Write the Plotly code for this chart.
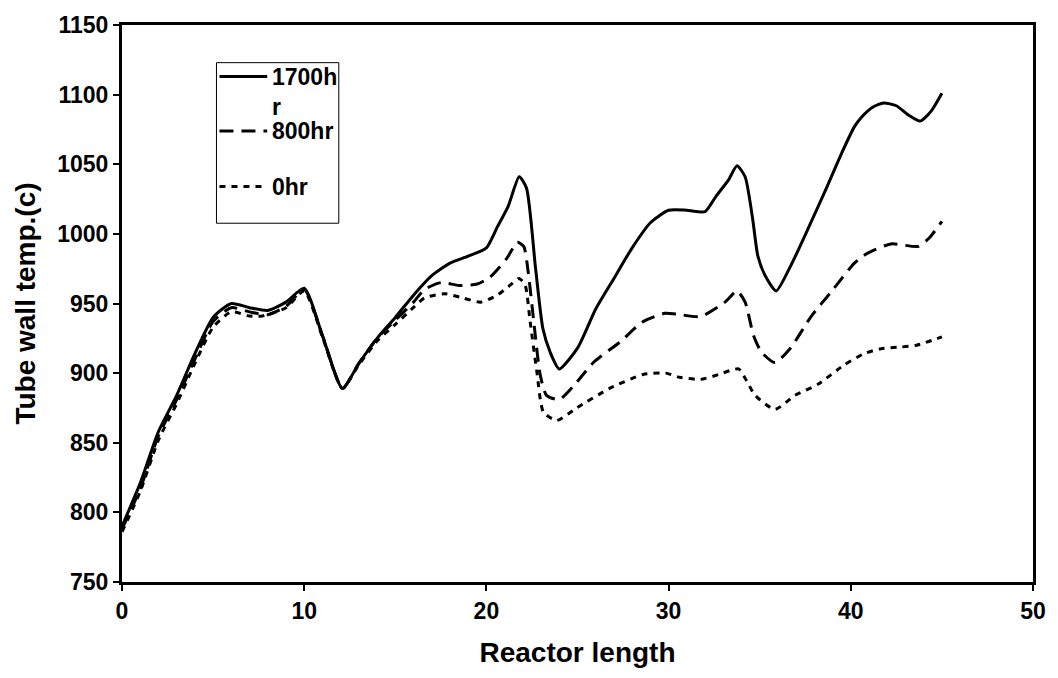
import plotly.graph_objects as go

# ---- data ----
x_1700 = [0, 1, 2, 3, 4, 5, 6, 7, 8, 9, 10, 11, 12.1, 13, 14, 15, 16, 17, 18, 19, 20,
          20.6, 21.2, 21.8, 22.2, 22.7, 23.1, 23.5, 24, 25, 26, 27, 28, 29, 30, 31, 32,
          32.6, 33.3, 33.75, 34.2, 34.6, 34.9, 35.3, 35.9, 36.7, 37.7, 38.7, 39.5, 40.2,
          40.6, 41.2, 41.8, 42.5, 43.2, 43.8, 44.4, 45]
y_1700 = [790, 821, 858, 884, 914, 940, 950, 947, 945, 951, 961, 927, 889, 907, 925, 940,
          956, 970, 979, 984, 990, 1005, 1020, 1041, 1033, 975, 932, 915, 903, 918, 946,
          968, 990, 1008, 1017, 1017, 1016, 1027, 1039, 1049, 1041, 1012, 984, 970, 959,
          977, 1005, 1034, 1058, 1077, 1084, 1091, 1094, 1092, 1085, 1081, 1088, 1101]

x_800 = [0, 1, 2, 3, 4, 5, 6, 7, 8, 9, 10, 11, 12.1, 13, 14, 15, 16, 16.6, 17.5, 18.5,
         19.5, 20.2, 21.1, 21.7, 22.05, 22.3, 22.6, 22.95, 23.3, 24, 24.8, 25.9, 27.3,
         28.6, 29.8, 30.4, 31.75, 33.1, 33.75, 34.2, 34.66, 35.1, 35.84, 36.66, 37.84,
         38.9, 40.2, 40.9, 42.2, 43.7, 44.3, 45]
y_800 = [788, 817, 855, 881, 910, 937, 947, 944, 942, 948, 960, 927, 889, 907, 925, 938,
         951, 960, 965, 963, 964, 969, 982, 994, 991, 972, 937, 899, 884, 881, 891, 908,
         922, 937, 943, 942.5, 940.6, 951, 959, 951, 927, 915, 907.6, 917.5, 941, 958,
         979, 986, 992.8, 991, 997, 1009]

x_0 = [0, 1, 2, 3, 4, 5, 6, 7, 7.7, 9, 10, 11, 12.1, 13, 14, 15, 15.9, 16.6, 17.7, 18.7,
       19.7, 20.6, 21.2, 21.8, 22.13, 22.4, 22.77, 23.13, 23.86, 24.95, 26.76, 28.6,
       29.85, 30.6, 31.75, 32.75, 33.84, 34.3, 34.75, 35.84, 36.93, 38.2, 39.65, 40.74,
       41.65, 42.7, 43.6, 45]
y_0 = [786, 815, 852, 878, 907, 933, 944, 941, 941, 947, 959, 926, 889, 906, 923, 935,
       946, 954, 957, 954, 951, 956, 962, 968, 963, 937, 901, 872, 866, 875, 889, 899,
       900, 897, 895.5, 899, 903, 894, 884, 874, 884, 892, 906, 914, 917.5, 918.7, 920, 926]

series_names = ["1700hr", "800hr", "0hr"]
legend_labels = ["1700h", "r", "800hr", "0hr"]
x_ticks = [0, 10, 20, 30, 40, 50]
y_ticks = [750, 800, 850, 900, 950, 1000, 1050, 1100, 1150]

FONT = "Arial, Liberation Sans, sans-serif"
dashes = ["solid", "14px,8px", "6px,6px"]

fig = go.Figure()
for xs, ys, name, dash in zip([x_1700, x_800, x_0], [y_1700, y_800, y_0], series_names, dashes):
    fig.add_trace(go.Scatter(x=xs, y=ys, mode="lines", name=name,
                             line=dict(color="black", width=3, dash=dash, shape="spline", smoothing=0.6),
                             showlegend=False))

# manual legend (box, sample lines, labels) in paper coordinates
W, H = 916.0, 562.0
def px2x(px): return (px - 122) / W
def py2y(py): return (582 - py) / H

shapes = [dict(type="rect", xref="paper", yref="paper",
               x0=px2x(217), x1=px2x(340), y0=py2y(220), y1=py2y(58),
               line=dict(color="black", width=1), fillcolor="white", layer="above")]
annotations = []
row_py = [72, 127, 183]
for py, dash in zip(row_py, dashes):
    shapes.append(dict(type="line", xref="paper", yref="paper",
                       x0=px2x(220), x1=px2x(268), y0=py2y(py), y1=py2y(py),
                       line=dict(color="black", width=3, dash=dash), layer="above"))
for txt, py in zip(legend_labels, [72, 103, 127, 183]):
    annotations.append(dict(xref="paper", yref="paper", x=px2x(271), y=py2y(py),
                            text=f"<b>{txt}</b>", showarrow=False, xanchor="left", yanchor="middle",
                            font=dict(family=FONT, size=23, color="black")))

fig.update_layout(
    width=1058, height=678,
    margin=dict(l=122, r=20, t=20, b=96),
    paper_bgcolor="white", plot_bgcolor="white",
    font=dict(family=FONT, color="black"),
    shapes=shapes, annotations=annotations,
    showlegend=False,
)
fig.update_xaxes(range=[0, 50], tickvals=x_ticks, ticktext=[f"<b>{v}</b>" for v in x_ticks],
                 showgrid=False, zeroline=False, showline=True, linecolor="black", linewidth=3,
                 mirror=True, ticks="outside", ticklen=6, tickwidth=1.5, tickcolor="black",
                 tickfont=dict(size=23, family=FONT),
                 title=dict(text="<b>Reactor length</b>", font=dict(size=28, family=FONT), standoff=20))
fig.update_yaxes(range=[750, 1150], tickvals=y_ticks, ticktext=[f"<b>{v}</b>" for v in y_ticks],
                 showgrid=False, zeroline=False, showline=True, linecolor="black", linewidth=3,
                 mirror=True, ticks="outside", ticklen=6, tickwidth=1.5, tickcolor="black",
                 tickfont=dict(size=23, family=FONT),
                 title=dict(text="<b>Tube wall temp.(c)</b>", font=dict(size=28, family=FONT), standoff=14))

fig.write_html("out.html")
